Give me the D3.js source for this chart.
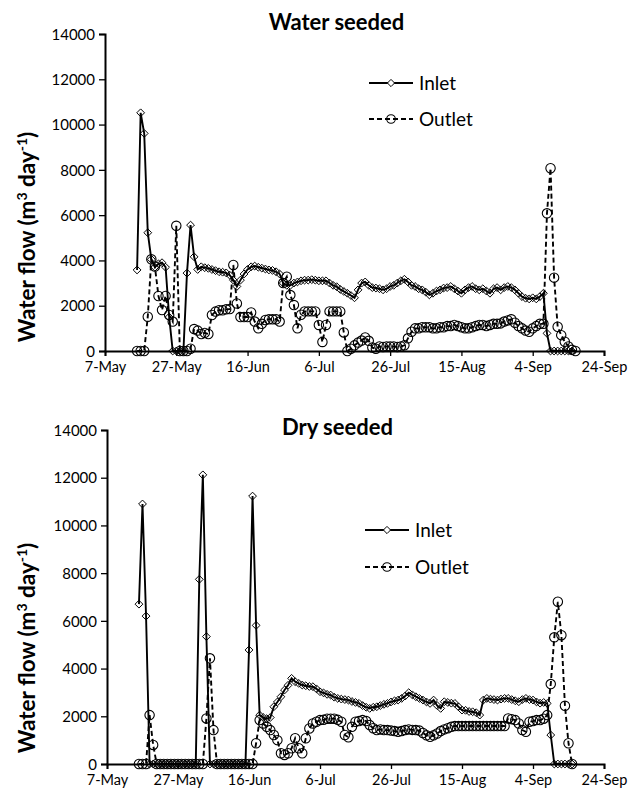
<!DOCTYPE html>
<html><head><meta charset="utf-8">
<script src="https://cdn.jsdelivr.net/npm/d3@7"></script>
<style>body{margin:0;background:#fff} svg{display:block}</style>
</head><body>
<svg id="c" width="642" height="794"></svg>
<script>
// ---------- data ----------
const tickLabels = ["7-May","27-May","16-Jun","6-Jul","26-Jul","15-Aug","4-Sep","24-Sep"];
const yTickValues = [0,2000,4000,6000,8000,10000,12000,14000];
const seriesNames = ["Inlet","Outlet"];
const panelTitles = ["Water seeded","Dry seeded"];
const seriesStart = "16-May"; // daily records start here

const wsInlet = [3580,10520,9610,5225,4050,3700,3850,3900,3700,1500,0,0,0,0,3440,5560,4160,3600,
3720,3680,3650,3600,3550,3500,3480,3450,3350,3130,2850,3130,3400,3600,3720,3750,3700,3660,3620,3580,
3560,3500,3400,3000,2900,2900,3000,3050,3100,3130,3130,3150,3130,3100,3100,3100,3000,2900,2840,2720,
2630,2550,2450,2350,2700,3000,3050,2900,2800,2780,2750,2700,2750,2850,2900,3000,3100,3170,3050,2900,
2850,2750,2700,2600,2480,2550,2650,2700,2780,2800,2850,2750,2650,2550,2700,2800,2850,2750,2700,2750,
2650,2550,2750,2800,2700,2800,2850,2800,2700,2550,2400,2330,2300,2350,2300,2400,2550,780,0,0,0,0,0,0,0];

const wsOutlet = [0,0,0,1515,4050,3730,2430,1810,2430,1590,1300,5530,0,0,0,100,970,900,750,800,750,
1590,1740,1800,1800,1840,1850,3800,2100,1500,1500,1500,1700,1300,1000,1200,1370,1400,1400,1400,1300,
3000,3280,2470,2030,1000,1600,1750,1750,1750,1750,1150,400,1150,1750,1750,1750,1750,820,0,100,250,
370,460,600,450,150,100,200,180,200,200,200,180,200,250,560,850,1000,1000,1050,1050,1050,1000,1000,
1050,1050,1100,1100,1150,1100,1050,1000,1000,1050,1100,1150,1150,1100,1150,1200,1200,1220,1300,1350,
1400,1250,1100,1000,900,850,1000,1100,1200,1200,6080,8070,3240,1070,700,410,200,50,0];

const dsInlet = [6700,10900,6200,0,0,0,0,0,0,0,0,0,0,0,0,0,0,7740,12120,5340,0,0,0,0,0,0,0,0,0,0,0,
4780,11230,5810,2050,1950,1900,1950,2400,2600,2820,3100,3300,3590,3450,3380,3310,3280,3250,3240,3150,
3030,2980,2920,2890,2800,2750,2720,2700,2680,2620,2580,2540,2450,2380,2330,2380,2400,2450,2500,2540,
2600,2650,2680,2750,2850,2990,2900,2820,2750,2680,2600,2540,2680,2450,2330,2610,2580,2550,2540,2400,
2260,2250,2200,2190,2150,2050,2680,2750,2720,2700,2680,2720,2750,2750,2700,2650,2610,2700,2750,2700,
2680,2600,2550,2580,2540,1215,0,0,0,0,0,0];

const dsOutlet = [0,0,0,2050,800,0,0,0,0,0,0,0,0,0,0,0,0,0,0,1910,4430,1420,0,0,0,0,0,0,0,0,0,0,0,
870,1840,1700,1560,1420,1215,1000,450,380,450,660,1080,660,450,1080,1490,1700,1770,1840,1850,1900,
1900,1900,1850,1770,1215,1120,1560,1770,1800,1840,1800,1630,1500,1420,1450,1420,1420,1400,1380,1350,
1380,1420,1450,1430,1420,1400,1300,1200,1140,1200,1280,1380,1450,1500,1560,1590,1590,1590,1590,1590,
1590,1590,1590,1590,1590,1590,1590,1590,1590,1590,1910,1880,1840,1700,1420,1350,1770,1800,1840,1840,
1900,2050,3350,5310,6800,5400,2440,870,0];

// ---------- helpers ----------
const YEAR = "-2013";
const parse = d3.timeParse("%d-%b-%Y");
const tickDates = tickLabels.map(t => parse(t + YEAR));
const start = parse(seriesStart + YEAR);
const toPoints = arr => arr.map((v,i) => ({date: d3.timeDay.offset(start, i), value: v}));

const FONT = "Lato, 'Open Sans', sans-serif";
const svg = d3.select("#c");

const panels = [
  {title: panelTitles[0], inlet: wsInlet, outlet: wsOutlet,
   L:105, R:604, T:34, B:351, titleY:22, legX:369, legY:[83,119], yTitleCY:237},
  {title: panelTitles[1], inlet: dsInlet, outlet: dsOutlet,
   L:107, R:604, T:430, B:764, titleY:427, legX:365, legY:[530,567], yTitleCY:648}
];

function diamondPath(r){ return `M0,${-r}L${r},0L0,${r}L${-r},0Z`; }

panels.forEach(p => {
  const x = d3.scaleTime().domain([tickDates[0], tickDates[tickDates.length-1]]).range([p.L, p.R]);
  const y = d3.scaleLinear().domain([0, 14000]).range([p.B, p.T]);
  const g = svg.append("g");

  // axes
  const xAx = g.append("g").attr("transform", `translate(0,${p.B})`)
    .call(d3.axisBottom(x).tickValues(tickDates).tickSize(5).tickPadding(6)
      .tickFormat((d,i) => tickLabels[i]));
  const yAx = g.append("g").attr("transform", `translate(${p.L},0)`)
    .call(d3.axisLeft(y).tickValues(yTickValues).tickSize(6).tickPadding(4).tickFormat(d3.format("d")));
  [xAx, yAx].forEach(a => {
    a.select(".domain").attr("stroke","#000").attr("stroke-width",2);
    a.selectAll(".tick line").attr("stroke","#000").attr("stroke-width",1.3);
    a.selectAll(".tick text").attr("fill","#000").attr("font-family",FONT).attr("font-size",15);
  });
  xAx.selectAll(".tick text").attr("font-size",14.5);
  yAx.selectAll(".tick text").attr("dy","0.35em");

  // title
  g.append("text").attr("x", (p.L + p.R)/2 - 18).attr("y", p.titleY).attr("dy","0.35em")
    .attr("text-anchor","middle").attr("font-family",FONT).attr("font-weight","bold")
    .attr("font-size",22).text(p.title);

  // y title
  const yt = g.append("text").attr("transform", `translate(27,${p.yTitleCY}) rotate(-90)`)
    .attr("text-anchor","middle").attr("dy","0.35em").attr("font-family",FONT)
    .attr("font-weight","bold").attr("font-size",22.5);
  yt.append("tspan").text("Water flow (m");
  yt.append("tspan").attr("font-size",14).attr("dy",-8).text("3");
  yt.append("tspan").attr("dy",8).text(" day");
  yt.append("tspan").attr("font-size",14).attr("dy",-8).text("-1");
  yt.append("tspan").attr("dy",8).text(")");

  const line = d3.line().x(d => x(d.date)).y(d => y(d.value));
  const defs = [
    {name: seriesNames[0], data: toPoints(p.inlet), dash: null, marker: "diamond"},
    {name: seriesNames[1], data: toPoints(p.outlet), dash: "5,3", marker: "circle"}
  ];

  defs.forEach((s, si) => {
    g.append("path").datum(s.data).attr("d", line).attr("fill","none")
      .attr("stroke","#000").attr("stroke-width",1.9)
      .attr("stroke-dasharray", s.dash);
    const mg = g.append("g");
    if (s.marker === "diamond") {
      mg.selectAll("path").data(s.data).join("path")
        .attr("d", diamondPath(3.9))
        .attr("transform", d => `translate(${x(d.date)},${y(d.value)})`)
        .attr("fill","none").attr("stroke","#000").attr("stroke-width",1);
    } else {
      mg.selectAll("circle").data(s.data).join("circle")
        .attr("cx", d => x(d.date)).attr("cy", d => y(d.value)).attr("r",4.7)
        .attr("fill","none").attr("stroke","#000").attr("stroke-width",1.1);
    }
    // legend
    const ly = p.legY[si];
    g.append("line").attr("x1", p.legX).attr("x2", p.legX + 44).attr("y1", ly).attr("y2", ly)
      .attr("stroke","#000").attr("stroke-width",1.9).attr("stroke-dasharray", s.dash);
    if (s.marker === "diamond") {
      g.append("path").attr("d", diamondPath(3.6))
        .attr("transform", `translate(${p.legX+22},${ly})`)
        .attr("fill","#fff").attr("stroke","#000").attr("stroke-width",1);
    } else {
      g.append("circle").attr("cx", p.legX+22).attr("cy", ly).attr("r",4.3)
        .attr("fill","none").attr("stroke","#000").attr("stroke-width",1.1);
    }
    g.append("text").attr("x", p.legX + 50).attr("y", ly).attr("dy","0.35em")
      .attr("font-family",FONT).attr("font-size",19).text(s.name);
  });
});
</script>
</body></html>
